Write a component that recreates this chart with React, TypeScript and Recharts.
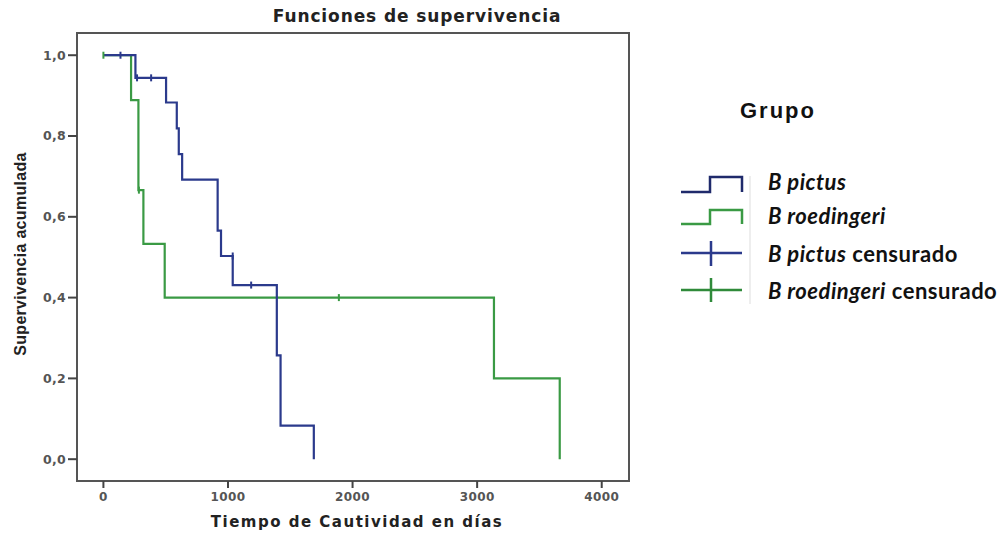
import React from "react";
import { ComposedChart, Line, Scatter, XAxis, YAxis, ReferenceArea } from "recharts";

// Kaplan-Meier steps (days, cumulative survival)
const pictusTimes = [0, 257, 503, 589, 605, 632, 917, 944, 1038, 1392, 1422, 1689];
const pictusSurvival = [1, 0.944, 0.883, 0.819, 0.755, 0.692, 0.566, 0.503, 0.431, 0.257, 0.083, 0];
const roedTimes = [0, 222, 281, 321, 492, 3135, 3663];
const roedSurvival = [1, 0.889, 0.666, 0.533, 0.4, 0.2, 0];

// censored observations
const pictusCensorTimes = [137, 270, 383, 1038, 1186];
const pictusCensorSurvival = [1, 0.944, 0.944, 0.503, 0.431];
const roedCensorTimes = [0, 285, 1890];
const roedCensorSurvival = [1, 0.666, 0.4];

const xTicks = [0, 1000, 2000, 3000, 4000];
const yTicks = [0, 0.2, 0.4, 0.6, 0.8, 1];
const X_DOMAIN = [-212, 4219];
const Y_DOMAIN = [-0.054, 1.055];

const NAVY = "#2b3a8c";
const GREEN = "#3a9a44";

const zip = (t: number[], s: number[]) => t.map((v, i) => ({ t: v, s: s[i] }));

const pictus = zip(pictusTimes, pictusSurvival);
const roed = zip(roedTimes, roedSurvival);
const pictusCensor = zip(pictusCensorTimes, pictusCensorSurvival);
const roedCensor = zip(roedCensorTimes, roedCensorSurvival);

const censorMark = (color: string) => (props: any) => {
  const { cx, cy } = props;
  return <line x1={cx} x2={cx} y1={cy - 3.5} y2={cy + 3.5} stroke={color} strokeWidth={2} />;
};

const tickStyle = { fontFamily: "DejaVu Sans", fontWeight: 700, fill: "#555" };

const App = () => {
  return (
    <div style={{ position: "absolute", left: 0, top: 0, width: 1008, height: 533, background: "#fff" }}>
      <ComposedChart
        width={1008}
        height={533}
        margin={{ top: 33, right: 379, bottom: 12, left: 27 }}
      >
        <XAxis
          dataKey="t"
          type="number"
          domain={X_DOMAIN}
          allowDataOverflow
          ticks={xTicks}
          height={40}
          axisLine={false}
          tickSize={7}
          tickMargin={4}
          tickLine={{ stroke: "#444", strokeWidth: 2 }}
          tick={{ ...tickStyle, fontSize: 12, letterSpacing: 0.4 }}
        />
        <YAxis
          type="number"
          domain={Y_DOMAIN}
          allowDataOverflow
          ticks={yTicks}
          width={50}
          axisLine={false}
          tickSize={9}
          tickMargin={2}
          tickLine={{ stroke: "#444", strokeWidth: 2 }}
          tick={{ ...tickStyle, fontSize: 12.5, letterSpacing: 0.3 }}
          tickFormatter={(v: number) => v.toFixed(1).replace(".", ",")}
        />
        <ReferenceArea
          x1={X_DOMAIN[0]}
          x2={X_DOMAIN[1]}
          y1={Y_DOMAIN[0]}
          y2={Y_DOMAIN[1]}
          fill="none"
          stroke="#555"
          strokeWidth={2}
        />
        <Line
          data={roed}
          dataKey="s"
          type="stepAfter"
          stroke={GREEN}
          strokeWidth={2.2}
          dot={false}
          isAnimationActive={false}
        />
        <Line
          data={pictus}
          dataKey="s"
          type="stepAfter"
          stroke={NAVY}
          strokeWidth={2.2}
          dot={false}
          isAnimationActive={false}
        />
        <Scatter data={roedCensor} dataKey="s" shape={censorMark(GREEN)} isAnimationActive={false} />
        <Scatter data={pictusCensor} dataKey="s" shape={censorMark(NAVY)} isAnimationActive={false} />
      </ComposedChart>

      <svg
        width={1008}
        height={533}
        style={{ position: "absolute", left: 0, top: 0, pointerEvents: "none" }}
      >
        <text x={417} y={22} textAnchor="middle" fontFamily="DejaVu Sans" fontWeight={700} fontSize={17} letterSpacing={0.9} fill="#222">
          Funciones de supervivencia
        </text>
        <text x={357} y={527} textAnchor="middle" fontFamily="DejaVu Sans" fontWeight={700} fontSize={15} letterSpacing={1.5} fill="#222">
          Tiempo de Cautividad en días
        </text>
        <text
          transform="translate(26,254) rotate(-90)"
          textAnchor="middle"
          fontFamily="Liberation Sans"
          fontWeight={700}
          fontSize={16}
          letterSpacing={0.3}
          fill="#222"
        >
          Supervivencia acumulada
        </text>

        {/* legend */}
        <text x={740} y={118} fontFamily="Liberation Sans" fontWeight={700} fontSize={22} letterSpacing={2} fill="#111">
          Grupo
        </text>
        <line x1={750} x2={750} y1={176} y2={304} stroke="#ddd" strokeWidth={1} />
        <path d="M681 192 H710 V177 H742 V192" fill="none" stroke="#1f2a6b" strokeWidth={2.5} />
        <path d="M681 224 H710 V210 H742 V224" fill="none" stroke={GREEN} strokeWidth={2.5} />
        <path d="M681 253 H742 M711 241 V266" fill="none" stroke={NAVY} strokeWidth={2.5} />
        <path d="M681 290 H742 M711 278 V302" fill="none" stroke="#2f8a3a" strokeWidth={2.5} />
        <g fontFamily="Lato" fontWeight={700} fontSize={22} letterSpacing={0.5} fill="#111">
          <text x={768} y={190}>
            <tspan fontStyle="italic">B pictus</tspan>
          </text>
          <text x={768} y={224}>
            <tspan fontStyle="italic">B roedingeri</tspan>
          </text>
          <text x={768} y={262}>
            <tspan fontStyle="italic">B pictus</tspan>
            <tspan> censurado</tspan>
          </text>
          <text x={768} y={299}>
            <tspan fontStyle="italic">B roedingeri</tspan>
            <tspan>  censurado</tspan>
          </text>
        </g>
      </svg>
    </div>
  );
};

export default App;
